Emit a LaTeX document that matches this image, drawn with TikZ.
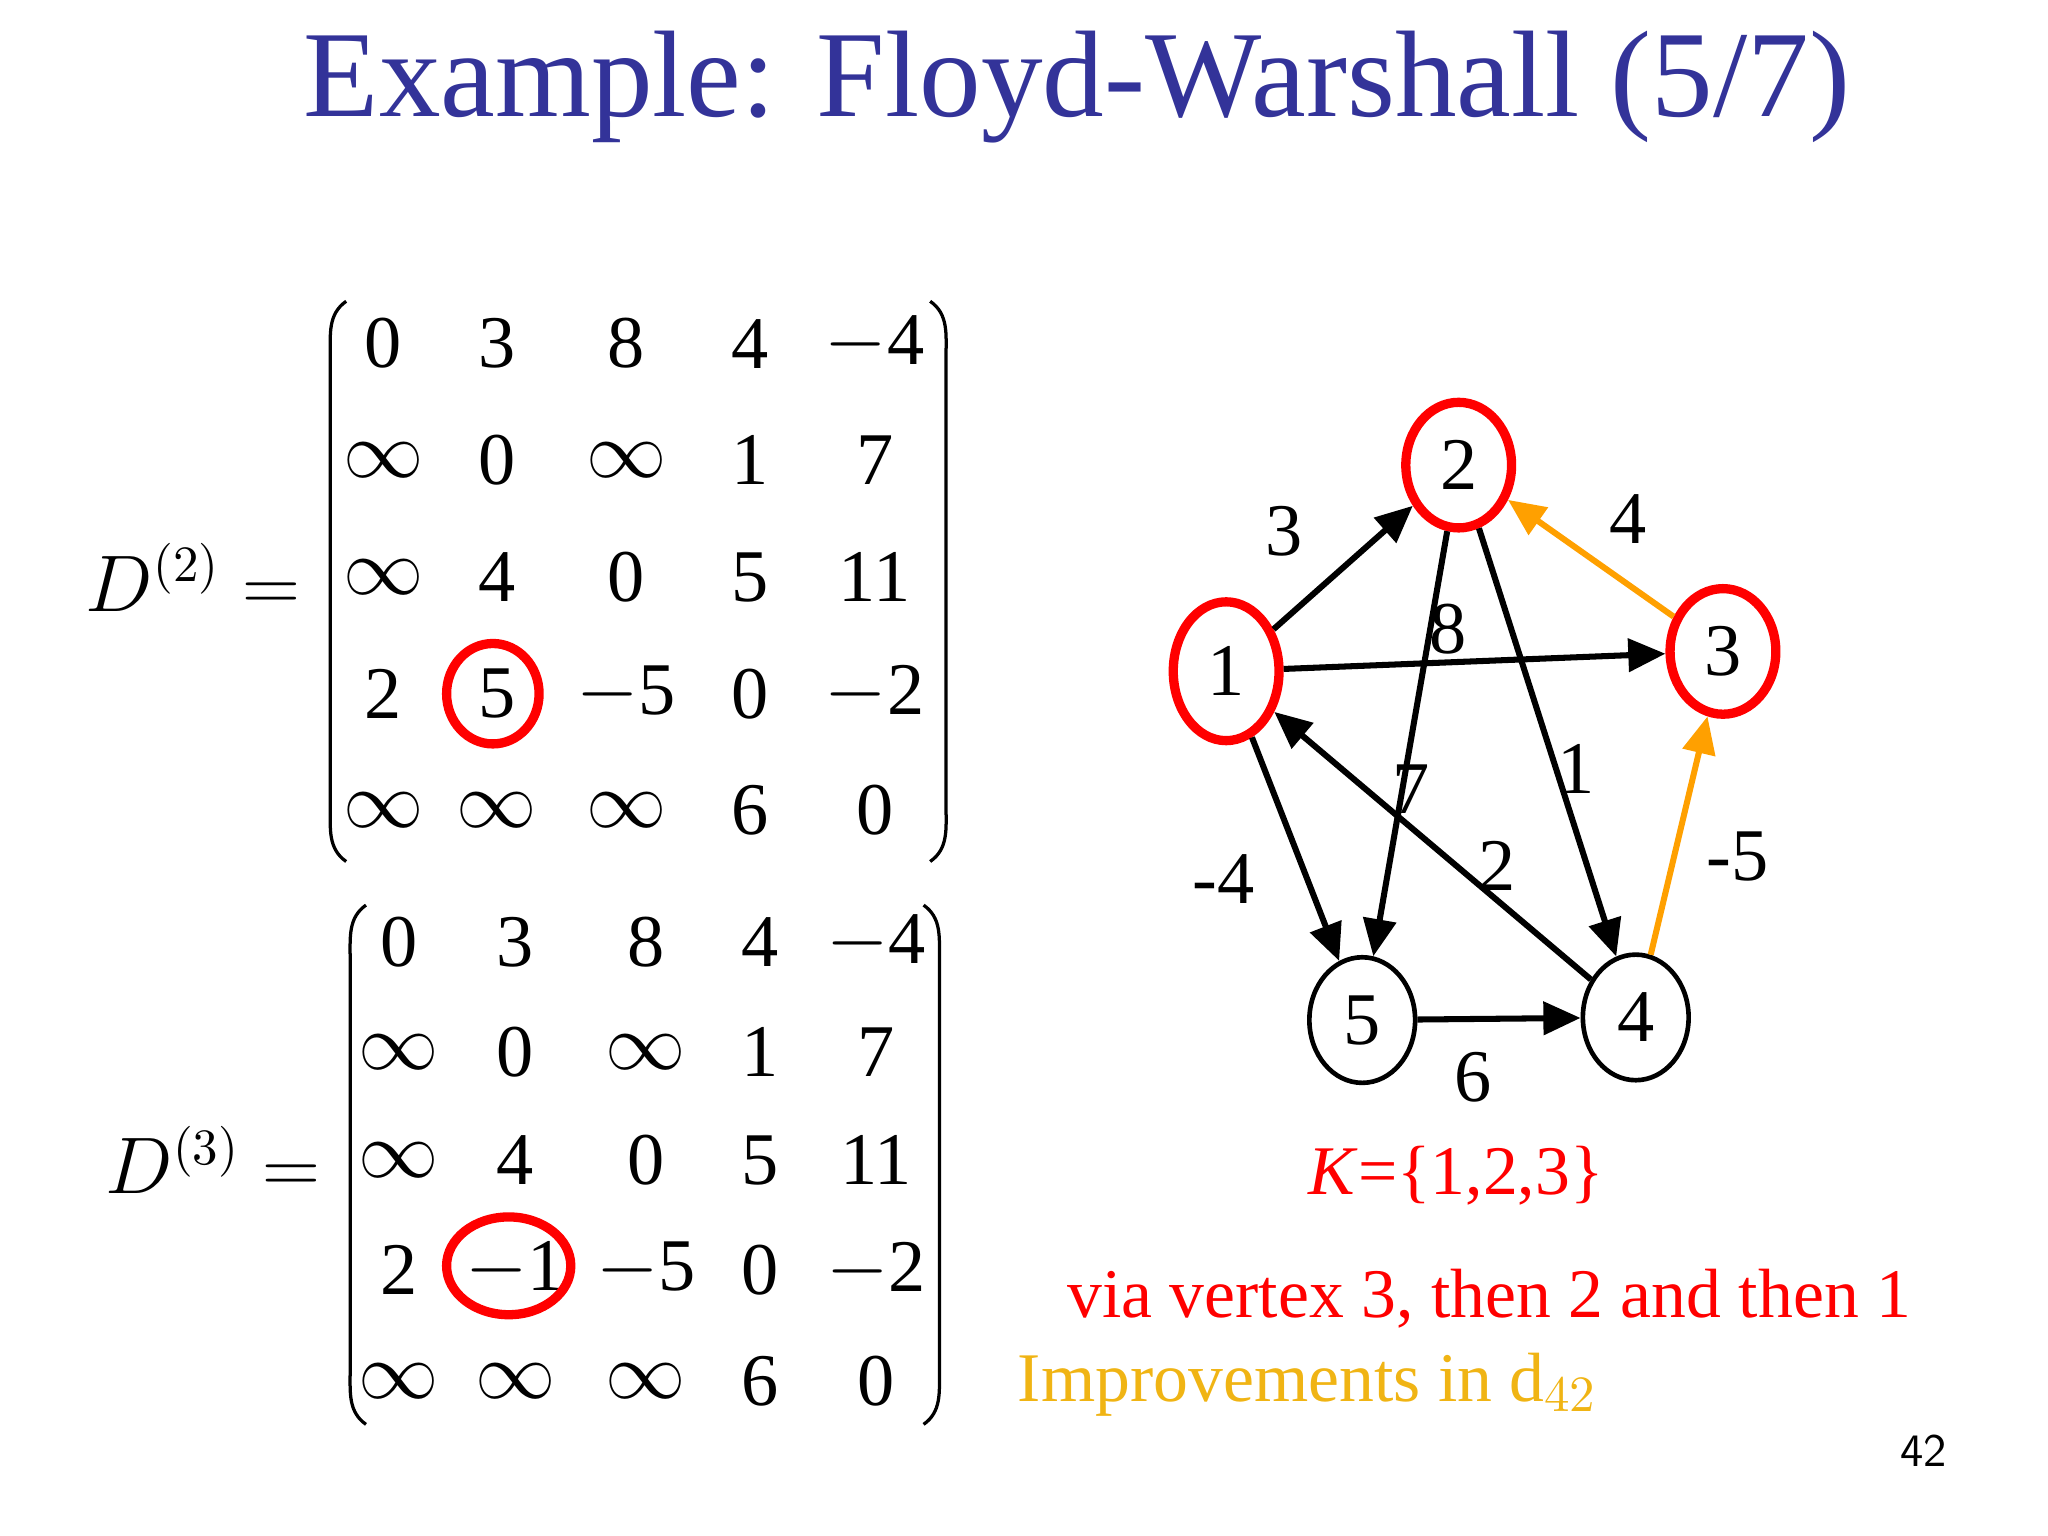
\documentclass[tikz,border=0pt]{standalone}
\usepackage{fontspec}
\setmainfont{Liberation Serif}
\usetikzlibrary{arrows.meta,shapes.geometric}
\definecolor{ttl}{RGB}{51,51,153}
\definecolor{org}{RGB}{255,160,0}
\definecolor{imp}{RGB}{240,180,20}
\begin{document}
\begin{tikzpicture}[x=0.01cm,y=-0.01cm,
  ent/.style={font=\fontsize{16}{18}\selectfont},
  lab/.style={font=\fontsize{16}{18}\selectfont},
  txt/.style={font=\fontsize{15}{17}\selectfont},
  vx/.style={ellipse,draw,line width=1pt,minimum width=0.8cm,minimum height=0.95cm,font=\fontsize{16}{18}\selectfont,inner sep=0pt},
  rv/.style={vx,draw=red,line width=2pt},
  ed/.style={line width=1.3pt,-{Triangle[length=8pt,width=7pt]}},
  par/.style={line width=0.7pt}]
\useasboundingbox (0,0) rectangle (1550,1162);
\node[text=ttl,font=\fontsize{26.5}{30}\selectfont] (title) at (815,66) {Example: Floyd-Warshall (5/7)};
% matrix 1
\node[ent,anchor=east] (d2) at (240,437) {$D^{(2)}=$};
\foreach \r [count=\i] in {{0,3,8,4,$-$4},{$\infty$,0,$\infty$,1,7},{$\infty$,4,0,5,11},{2,5,$-$5,0,$-$2},{$\infty$,$\infty$,$\infty$,6,0}}{
  \foreach \v [count=\j] in \r {
    \pgfmathsetmacro\xx{{0,290,376,474,568,662}[\j]}
    \pgfmathsetmacro\yy{{0,260,348,437,525,613}[\i]}
    \node[ent] (a\i\j) at (\xx,\yy) {\v};
  }}
\draw[par] (262,228) to[out=215,in=90] (250,270) -- (250,610) to[out=-90,in=145] (262,652);
\draw[par] (704,228) to[out=-35,in=90] (716,270) -- (716,610) to[out=-90,in=35] (704,652);
\draw[red,line width=2pt] (373,525) ellipse [x radius=35,y radius=38];
% matrix 2
\node[ent,anchor=east] (d3) at (255,878) {$D^{(3)}=$};
\foreach \r [count=\i] in {{0,3,8,4,$-$4},{$\infty$,0,$\infty$,1,7},{$\infty$,4,0,5,11},{2,$-$1,$-$5,0,$-$2},{$\infty$,$\infty$,$\infty$,6,0}}{
  \foreach \v [count=\j] in \r {
    \pgfmathsetmacro\xx{{0,302,390,489,575,663}[\j]}
    \pgfmathsetmacro\yy{{0,713,796,878,961,1045}[\i]}
    \node[ent] (b\i\j) at (\xx,\yy) {\v};
  }}
\draw[par] (277,685) to[out=215,in=90] (265,725) -- (265,1038) to[out=-90,in=145] (277,1078);
\draw[par] (699,685) to[out=-35,in=90] (711,725) -- (711,1038) to[out=-90,in=35] (699,1078);
\draw[red,line width=2pt] (385,958) ellipse [x radius=47,y radius=37];
% graph
\node[rv,minimum height=1.05cm] (n1) at (928,508) {1};
\node[rv] (n2) at (1104,352) {2};
\node[rv] (n3) at (1304,493) {3};
\node[vx] (n5) at (1031,772) {5};
\node[vx] (n4) at (1238,770) {4};
\draw[ed] (n1) -- (n2);
\draw[ed] (n1) -- (n3);
\draw[ed] (n1) -- (n5);
\draw[ed] (n2) -- (n5);
\draw[ed] (n2) -- (n4);
\draw[ed,org] (n3) -- (n2);
\draw[ed,org] (n4) -- (n3);
\draw[ed] (n4) -- (n1);
\draw[ed] (n5) -- (n4);
\node[lab] (l3) at (972,402) {3};
\node[lab] (l8) at (1096,476) {8};
\node[lab] (lm4) at (926,665) {-4};
\node[lab] (l7) at (1068,597) {7};
\node[lab] (l1) at (1193,582) {1};
\node[lab] (l4) at (1232,393) {4};
\node[lab] (lm5) at (1315,648) {-5};
\node[lab] (l2) at (1133,655) {2};
\node[lab] (l6) at (1115,815) {6};
\node[txt,text=red] (K) at (1102,890) {\textit{K}=\{1,2,3\}};
\node[txt,text=red] (via) at (1127,983) {via vertex 3, then 2 and then 1};
\node[txt,text=imp,anchor=west] (imp) at (758,1048) {Improvements in d$_{42}$};
\node[font=\sffamily\fontsize{10}{12}\selectfont] (pg) at (1456,1098) {42};
\end{tikzpicture}
\end{document}
